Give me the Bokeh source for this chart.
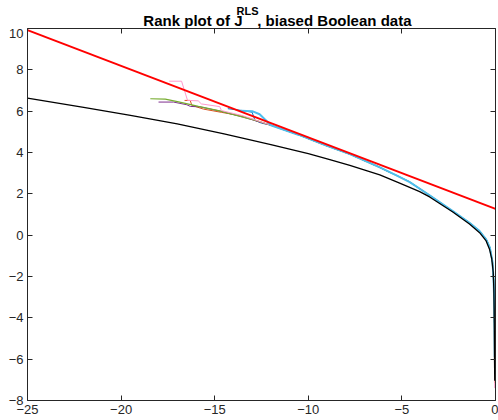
from bokeh.plotting import figure
from bokeh.layouts import column
from bokeh.models import LinearAxis, FixedTicker, Range1d
from bokeh.core.properties import value
from bokeh.embed import file_html
from bokeh.resources import INLINE

# ---- data ----
x_ticks = [-25, -20, -15, -10, -5, 0]
y_ticks = [-8, -6, -4, -2, 0, 2, 4, 6, 8, 10]

title_parts = ["Rank plot of J", "RLS", ", biased Boolean data"]

red_x = [-25, 0]
red_y = [9.92, 1.27]

black_x = [-25, -22, -19.5, -17, -14.5, -12, -10, -8.85, -7.78, -6.18, -5.12, -4.05,
           -3.52, -2.28, -1.39, -0.85, -0.50, -0.32, -0.20, -0.12, -0.09, -0.07, -0.06,
           -0.05, -0.04]
black_y = [6.63, 6.18, 5.80, 5.38, 4.90, 4.38, 3.94, 3.66, 3.38, 2.92, 2.52, 2.11,
           1.85, 1.12, 0.54, 0.12, -0.28, -0.68, -1.15, -1.8, -2.6, -3.6, -5.0,
           -6.2, -7.05]

# shared path of the colored rank curves (they overlap)
tail_x = [-12.0, -10.5, -9.0, -7.78, -6.18, -5.29, -4.58, -3.52, -2.28, -1.39, -0.85,
          -0.50, -0.30, -0.16, -0.10, -0.07, -0.05]
tail_y = [5.32, 4.85, 4.32, 3.92, 3.28, 2.89, 2.57, 1.93, 1.16, 0.60, 0.20,
          -0.20, -0.60, -1.30, -2.20, -3.20, -4.50]

green_x = [-18.44, -17.64, -16.93, -15.87, -14.8, -13.38, -12.6]
green_y = [6.60, 6.58, 6.45, 6.23, 6.03, 5.69, 5.50]
green_end = [-0.04, -6.5]

purple_x = [-18.0, -17.2, -16.49, -16.3, -15.8, -14.7, -13.5]
purple_y = [6.44, 6.44, 6.31, 6.23, 6.21, 6.00, 5.72]
purple_end = [-0.04, -6.7]

pink_x = [-17.43, -16.77, -16.45, -15.88, -15.71, -14.73, -14.64, -13.5]
pink_y = [7.45, 7.45, 6.52, 6.50, 6.35, 6.22, 6.03, 5.78]
pink_end = [-0.04, -7.4]

orange_x = [-16.61, -16.31, -16.22, -15.6, -14.62, -13.56, -12.6]
orange_y = [6.52, 6.52, 6.28, 6.10, 5.94, 5.77, 5.48]
orange_end = [-0.04, -7.0]

yellow_x = [-14.0, -13.0, -12.5]
yellow_y = [5.86, 5.62, 5.46]
yellow_end = [-0.04, -7.15]

blue_x = [-14.3, -13.6, -13.0, -12.85, -12.5, -12.2]
blue_y = [6.12, 6.04, 5.95, 5.55, 5.42, 5.36]
blue_end = [-0.04, -6.9]

cyan_x = [-13.6, -13.0, -12.6, -12.2]
cyan_y = [6.02, 6.00, 5.85, 5.50]
cyan_end = [-0.04, -5.9]

series = [
    ("#0072BD", blue_x, blue_y, blue_end, 1.0),
    ("#D95319", orange_x, orange_y, orange_end, 1.0),
    ("#EDB120", yellow_x, yellow_y, yellow_end, 1.0),
    ("#7E2F8E", purple_x, purple_y, purple_end, 1.0),
    ("#77AC30", green_x, green_y, green_end, 1.2),
    ("#FF99CC", pink_x, pink_y, pink_end, 1.0),
    ("#4DBEEE", cyan_x, cyan_y, cyan_end, 2.0),
]

FONT = "Liberation Sans"
AX = "#262626"
W = 498
TITLE_H = 28
MAIN_H = 391

# ---- title strip (separate small figure so the superscript can be placed) ----
t = figure(width=W, height=TITLE_H, x_range=Range1d(0, W), y_range=Range1d(0, TITLE_H),
           output_backend="svg", toolbar_location=None, title=None,
           x_axis_type=None, y_axis_type=None, min_border=0)
t.grid.visible = False
t.outline_line_color = None
x0 = 27 + 234 - 137.7
t.text(x=[x0, x0 + 121.2], y=[8.5, 8.5], text=[title_parts[0], title_parts[2]],
       text_font=value(FONT), text_font_style="bold", text_font_size=value("15px"),
       text_color="black", text_baseline="alphabetic", text_align="left")
t.text(x=[x0 + 99.2], y=[17.2], text=[title_parts[1]],
       text_font=value(FONT), text_font_style="bold", text_font_size=value("11px"),
       text_color="black", text_baseline="alphabetic", text_align="left")

# ---- main plot ----
p = figure(width=W, height=MAIN_H, x_range=Range1d(-25, 0), y_range=Range1d(-8, 10),
           output_backend="svg", toolbar_location=None, title=None,
           min_border_left=27, min_border_right=3, min_border_top=0, min_border_bottom=19)
p.grid.visible = False
p.outline_line_color = None

for color, hx, hy, end, lw in series:
    xs = list(hx) + list(tail_x) + [end[0]]
    ys = list(hy) + list(tail_y) + [end[1]]
    p.line(xs, ys, line_color=color, line_width=lw)

p.line(black_x, black_y, line_color="black", line_width=1.3)
p.line(red_x, red_y, line_color="#FF0000", line_width=2.0)

def style(ax, labels=True):
    ax.axis_line_color = AX
    ax.axis_line_width = 1
    ax.major_tick_line_color = AX
    ax.major_tick_in = 5
    ax.major_tick_out = 0
    ax.minor_tick_line_color = None
    ax.major_label_text_font = FONT
    if labels:
        ax.major_label_text_color = AX
        ax.major_label_text_font_size = "13px"
        ax.major_label_standoff = 4
    else:
        ax.major_label_text_color = None
        ax.major_label_text_font_size = "0px"
        ax.major_label_standoff = 0

p.xaxis.ticker = FixedTicker(ticks=x_ticks)
p.yaxis.ticker = FixedTicker(ticks=y_ticks)
style(p.xaxis[0])
style(p.yaxis[0])

top = LinearAxis(ticker=FixedTicker(ticks=x_ticks))
right = LinearAxis(ticker=FixedTicker(ticks=y_ticks))
style(top, False)
style(right, False)
p.add_layout(top, "above")
p.add_layout(right, "right")

layout = column(t, p, spacing=0)
open("out.html", "w").write(file_html(layout, INLINE))
